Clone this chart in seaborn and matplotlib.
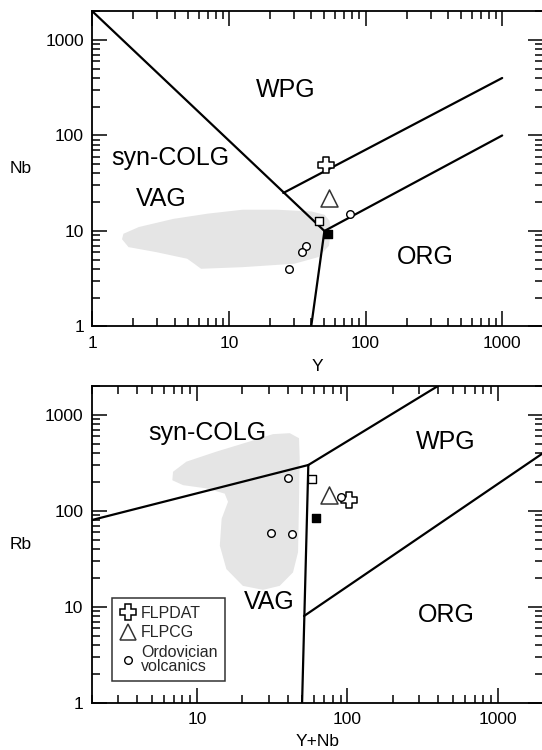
import numpy as np
import pandas as pd
import matplotlib
matplotlib.use("Agg")
import matplotlib.pyplot as plt
import seaborn as sns
from matplotlib.lines import Line2D
from matplotlib.ticker import NullFormatter

# ---- Nb vs Y (top) ----
top_lines = {
    "syn_vag_wpg": ([1, 50], [2000, 10]),
    "wpg_org": ([50, 1000], [10, 100]),
    "vag_org": ([50, 40], [10, 1]),
    "orgu": ([25, 1000], [25, 400]),
}
top_field_y = [1.69, 2.19, 3.93, 7.03, 12.6, 22.5, 40.3, 50.0, 54.5, 55.6, 54.0, 45.2,
               30.1, 12.6, 6.25, 5.57, 4.95, 2.93, 1.84, 1.65]
top_field_nb = [9.35, 11.0, 13.4, 15.2, 16.7, 16.7, 16.0, 14.8, 12.8, 10.1, 7.0, 5.33,
                4.54, 4.18, 4.02, 4.54, 5.12, 6.01, 6.78, 8.2]
top_flpdat = ([51], [49])
top_flpcg = ([54], [22])
top_open_sq = ([46], [12.7])
top_filled_sq = ([53.5], [9.2])
top_ordo = ([77, 36.6, 34.5, 27.5], [15, 7, 6, 4])
top_labels = [("WPG", 26, 300), ("syn-COLG", 3.7, 58), ("VAG", 3.2, 21.4), ("ORG", 275, 5.3)]

# ---- Rb vs Y+Nb (bottom) ----
bot_lines = {
    "syn_vag": ([2, 55], [80, 300]),
    "syn_wpg": ([55, 400], [300, 2000]),
    "vag_wpg": ([55, 50], [300, 1]),
    "wpg_org": ([51.5, 2000], [8, 400]),
}
bot_field_x = [6.94, 8.51, 13.5, 22.4, 32.0, 41.4, 47.7, 48.2, 47.7, 47.0, 43.5, 35.5,
               27.5, 20.2, 15.7, 14.2, 14.6, 16.1, 15.3, 11.6, 8.09, 6.87]
bot_field_rb = [255, 325, 414, 527, 629, 644, 571, 352, 124, 37.0, 22.8, 16.5,
                15.0, 16.5, 24.7, 43.3, 82.6, 124, 151, 171, 185, 208]
bot_flpdat = ([102], [128])
bot_flpcg = ([75], [145])
bot_open_sq = ([58], [215])
bot_filled_sq = ([61.5], [84])
bot_ordo = ([40, 90, 31, 43], [220, 138, 59, 57])
bot_labels = [("syn-COLG", 11.7, 640), ("WPG", 452, 523), ("VAG", 30.4, 11.2), ("ORG", 452, 8.2)]

tick_vals = [1, 10, 100, 1000]
tick_text = ["1", "10", "100", "1000"]

sns.set_theme(style="ticks")
plt.rcParams["font.family"] = ["Liberation Sans", "DejaVu Sans"]

fig = plt.figure(figsize=(5.42, 7.5), dpi=100)
ax1 = fig.add_axes([0.1703, 0.5647, 0.8321, 0.4203])
ax2 = fig.add_axes([0.1692, 0.0631, 0.8330, 0.4223])


def style_axis(ax, xlim, ylim, xticks, xlabels):
    ax.set_xscale("log")
    ax.set_yscale("log")
    ax.set_xlim(*xlim)
    ax.set_ylim(*ylim)
    ax.set_xticks(xticks, xlabels)
    ax.set_yticks(tick_vals, tick_text)
    ax.xaxis.set_minor_formatter(NullFormatter())
    ax.yaxis.set_minor_formatter(NullFormatter())
    ax.tick_params(which="both", direction="in", top=True, right=True,
                   color="black", width=1.1, labelsize=12.5, labelcolor="black")
    ax.tick_params(which="major", length=11)
    ax.tick_params(which="minor", length=5.5)
    ax.tick_params(axis="x", which="major", pad=7)
    ax.tick_params(axis="y", which="major", pad=6)
    for s in ax.spines.values():
        s.set_linewidth(1.3)
        s.set_color("black")


def draw(ax, field_x, field_y, lines, flpdat, flpcg, open_sq, filled_sq, ordo, labels):
    ax.fill(field_x, field_y, color="#e5e5e5", lw=0, zorder=1)
    for xs, ys in lines.values():
        ax.plot(xs, ys, color="black", lw=1.6, zorder=2)
    sns.scatterplot(x=flpdat[0], y=flpdat[1], marker="P", s=140, facecolor="white",
                    edgecolor="black", linewidth=1.1, ax=ax, zorder=4)
    sns.scatterplot(x=flpcg[0], y=flpcg[1], marker="^", s=150, facecolor="white",
                    edgecolor="#333333", linewidth=1.1, ax=ax, zorder=4)
    sns.scatterplot(x=open_sq[0], y=open_sq[1], marker="s", s=32, facecolor="white",
                    edgecolor="black", linewidth=1.0, ax=ax, zorder=4)
    sns.scatterplot(x=filled_sq[0], y=filled_sq[1], marker="s", s=34, facecolor="black",
                    edgecolor="black", linewidth=1.0, ax=ax, zorder=4)
    sns.scatterplot(x=ordo[0], y=ordo[1], marker="o", s=30, facecolor="white",
                    edgecolor="black", linewidth=1.0, ax=ax, zorder=4)
    for txt, x, y in labels:
        ax.text(x, y, txt, fontsize=18, ha="center", va="center", color="black", zorder=3)


draw(ax1, top_field_y, top_field_nb, top_lines, top_flpdat, top_flpcg,
     top_open_sq, top_filled_sq, top_ordo, top_labels)
style_axis(ax1, (1, 2000), (1, 2000), tick_vals, tick_text)
ax1.set_xlabel("Y", fontsize=12.5, color="black")
ax1.set_ylabel("Nb", fontsize=12.5, rotation=0, color="black")
ax1.xaxis.set_label_coords(0.5, -0.128)
ax1.yaxis.set_label_coords(-0.158, 0.5)
ax1.xaxis.label.set_va("center")
ax1.yaxis.label.set_va("center")
ax1.yaxis.label.set_ha("center")

draw(ax2, bot_field_x, bot_field_rb, bot_lines, bot_flpdat, bot_flpcg,
     bot_open_sq, bot_filled_sq, bot_ordo, bot_labels)
style_axis(ax2, (2, 2000), (1, 2000), tick_vals[1:], tick_text[1:])
ax2.set_xlabel("Y+Nb", fontsize=12.5, color="black")
ax2.set_ylabel("Rb", fontsize=12.5, rotation=0, color="black")
ax2.xaxis.set_label_coords(0.5, -0.123)
ax2.yaxis.set_label_coords(-0.158, 0.5)
ax2.xaxis.label.set_va("center")
ax2.yaxis.label.set_va("center")
ax2.yaxis.label.set_ha("center")

handles = [
    Line2D([], [], ls="none", marker="P", ms=11.5, mfc="white", mec="black", mew=1.1),
    Line2D([], [], ls="none", marker="^", ms=12, mfc="white", mec="#333333", mew=1.1),
    Line2D([], [], ls="none", marker="o", ms=5.5, mfc="white", mec="black", mew=1.0),
]
leg = ax2.legend(handles, ["FLPDAT", "FLPCG", "Ordovician\nvolcanics"],
                 loc="upper left", bbox_to_anchor=(0.046, 0.329), borderaxespad=0,
                 fontsize=11.5, frameon=True, fancybox=False, handlelength=1.0,
                 handletextpad=0.35, labelspacing=0.3, borderpad=0.45)
leg.get_frame().set_edgecolor("black")
leg.get_frame().set_linewidth(1.1)
for t in leg.get_texts():
    t.set_linespacing(0.9)

fig.savefig("out.png", dpi=100)
